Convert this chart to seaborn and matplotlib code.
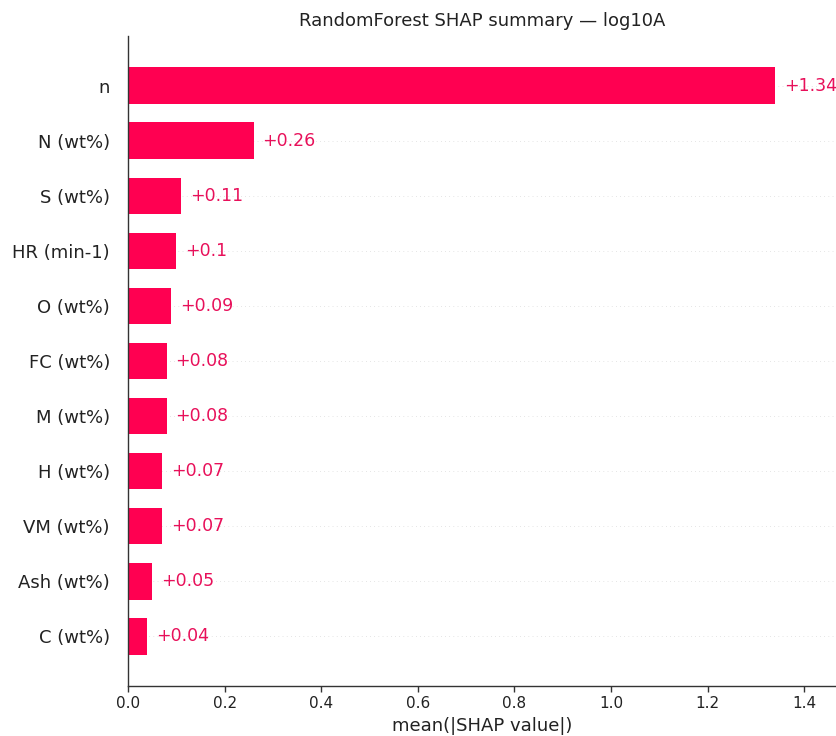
import matplotlib
matplotlib.use("Agg")
import matplotlib.pyplot as plt
import seaborn as sns
import pandas as pd

# Mean absolute SHAP value per feature (RandomForest, target log10A)
features = ["n", "N (wt%)", "S (wt%)", "HR (min-1)", "O (wt%)", "FC (wt%)",
            "M (wt%)", "H (wt%)", "VM (wt%)", "Ash (wt%)", "C (wt%)"]
mean_abs_shap = [1.34, 0.26, 0.11, 0.10, 0.09, 0.08, 0.08, 0.07, 0.07, 0.05, 0.04]
x_ticks = [0.0, 0.2, 0.4, 0.6, 0.8, 1.0, 1.2, 1.4]

BAR_COLOR = "#ff0051"
TEXT_RED = "#e8105a"

sns.set_style("white")
plt.rcParams["font.family"] = ["DejaVu Sans"]

df = pd.DataFrame({"feature": features, "value": mean_abs_shap})

fig = plt.figure(figsize=(8.36, 7.36), dpi=100)
ax = fig.add_axes([128 / 836, 50 / 736, 1 - 128 / 836, 650 / 736])

xmax = 1.466
ax.set_xlim(0, xmax)

# faint dotted guide lines behind each row
for i in range(len(features)):
    ax.axhline(i, color="#cccccc", lw=0.5, dashes=(1, 5), zorder=-1)

sns.barplot(data=df, x="value", y="feature", orient="h", color=BAR_COLOR,
            saturation=1, width=0.66, ax=ax, zorder=2)
for p in ax.patches:
    p.set_edgecolor("none")


def fmt(v):
    s = f"{v:.2f}".rstrip("0").rstrip(".")
    return "+" + s


offset = xmax / 80
for i, v in enumerate(mean_abs_shap):
    ax.text(v + offset, i, fmt(v), ha="left", va="center",
            color=TEXT_RED, fontsize=12.5)

ax.set_ylim(len(features) - 1 + 0.9, -0.9)
ax.set_xticks(x_ticks)
ax.set_xticklabels([f"{t:.1f}" for t in x_ticks])
ax.tick_params(axis="x", labelsize=11, length=4, width=1, color="#333333",
               bottom=True, labelcolor="#222222")
ax.tick_params(axis="y", labelsize=13, length=0, pad=13, labelcolor="#222222")

ax.set_xlabel("mean(|SHAP value|)", fontsize=13, color="#222222")
ax.set_ylabel("")
ax.set_title("RandomForest SHAP summary — log10A", fontsize=13, pad=7,
             color="#222222")

for side in ("top", "right"):
    ax.spines[side].set_visible(False)
for side in ("left", "bottom"):
    ax.spines[side].set_color("#333333")
    ax.spines[side].set_linewidth(1)

fig.savefig("out.png", dpi=100)
